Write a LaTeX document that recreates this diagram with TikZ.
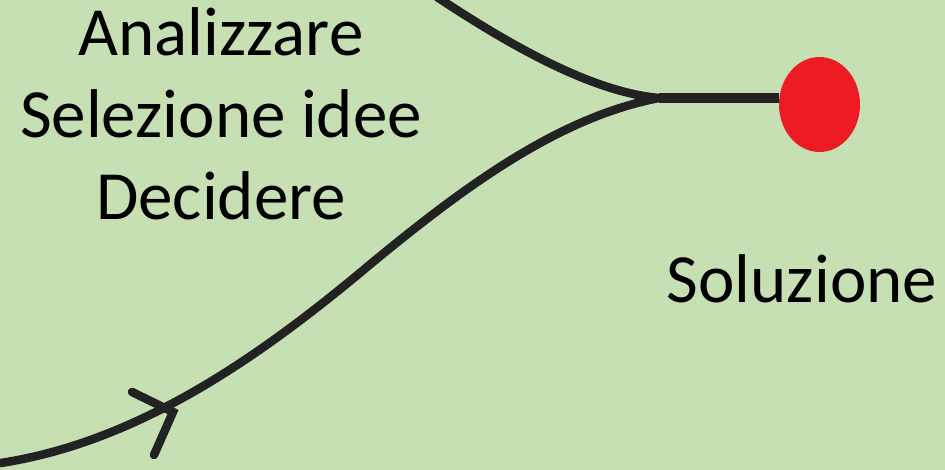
\documentclass[tikz,border=0pt]{standalone}
\usepackage{fontspec}
\setmainfont{Carlito}
\usetikzlibrary{shapes.geometric,calc}
\definecolor{bg}{HTML}{C6E0B4}
\definecolor{dot}{HTML}{ED1C24}
\definecolor{ink}{HTML}{222222}
\begin{document}
\begin{tikzpicture}[x=1pt,y=-1pt,
  curve/.style={draw=ink,line width=8.5pt,line cap=butt,line join=round},
  lbl/.style={font=\fontsize{69}{82}\selectfont,anchor=base,inner sep=0pt}]
\fill[bg] (0,0) rectangle (945,470);
\useasboundingbox (0,0) rectangle (945,470);
\node[ellipse,fill=dot,minimum width=81pt,minimum height=95pt,inner sep=0pt] (sol) at (819.5,104.5) {};
\coordinate (m) at (659,98);
\coordinate (t) at (437,-3);
\coordinate (b) at (-6,464);
\coordinate (mid) at (367,267);
\coordinate (arr) at (173,412);
\draw[curve] (t) .. controls (505,42) and (590,92) .. (m);
\draw[curve] (b) .. controls (130,445) and (250,365) .. (mid)
  .. controls (467,184) and (560,117) .. (m);
\draw[curve,line width=10pt] (m) -- (m -| sol.west);
\draw[curve,line cap=round,line join=miter] ($(arr)+(-41,-20)$) -- (arr) -- ($(arr)+(-19,43)$);
\node[lbl] (a1) at (221,56) {Analizzare};
\node[lbl] (a2) at (221,138) {Selezione idee};
\node[lbl] (a3) at (221,220) {Decidere};
\node[lbl] (s) at (802,302) {Soluzione};
\end{tikzpicture}
\end{document}
